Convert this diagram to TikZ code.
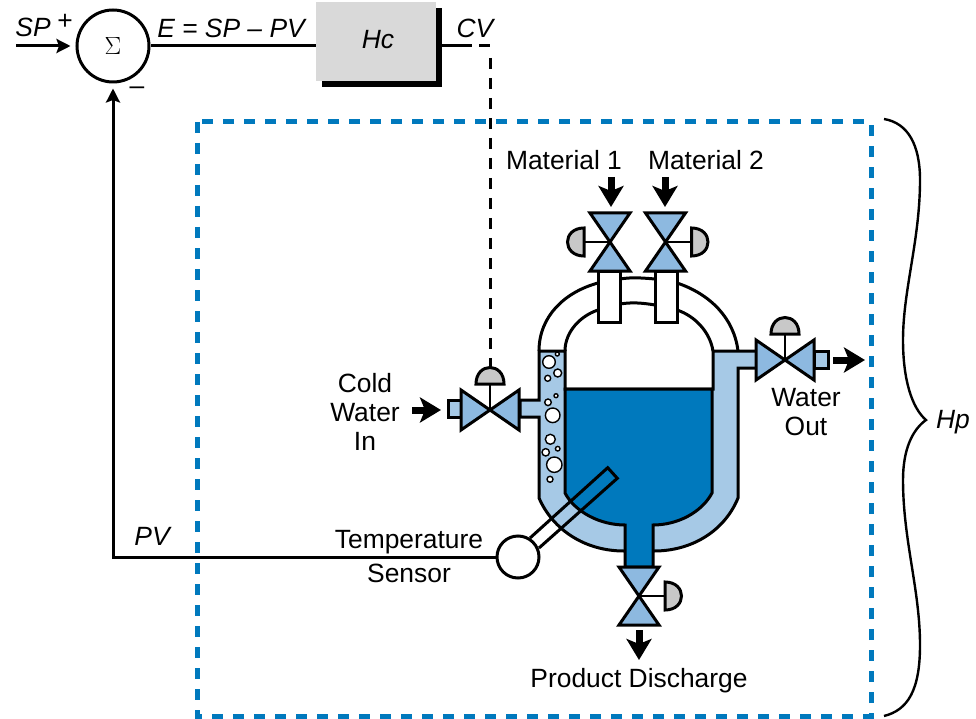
\documentclass[tikz,border=0pt]{standalone}
\usepackage{fontspec}
\setmainfont{Liberation Sans}
\usetikzlibrary{arrows.meta}
\definecolor{waterblue}{HTML}{0079BD}
\definecolor{jacketblue}{HTML}{A6C9E6}
\definecolor{valveblue}{HTML}{8DB9E0}
\definecolor{blockgray}{HTML}{D9D9D9}
\definecolor{domegray}{HTML}{C8C8C8}
\tikzset{
  lab/.style={font=\fontsize{26.4}{29}\selectfont, inner sep=0pt, align=center},
  ilab/.style={lab, font=\fontsize{26.4}{29}\selectfont\itshape},
  wire/.style={line width=3pt, -{Stealth[length=14pt,width=14pt,inset=2.5pt]}, shorten >=5pt},
  plainwire/.style={line width=3pt},
  ctl/.style={line width=3pt, dash pattern=on 11pt off 9pt},
  flow/.style={line width=7pt, -{Stealth[length=21pt,width=25pt,inset=5pt]}},
  bubble/.style={fill=white, draw=black, line width=1.4pt},
  valve/.pic={
    \draw[line width=3pt, fill=valveblue, line join=miter]
      (0,0) -- (-29,-20) -- (-29,20) -- cycle
      (0,0) -- (29,-20) -- (29,20) -- cycle;
    \draw[line width=2.4pt] (0,0) -- (0,-26);
    \draw[line width=3pt, fill=domegray]
      (-14,-26) .. controls (-14,-48) and (14,-48) .. (14,-26) -- cycle;
  }
}
\begin{document}
\begin{tikzpicture}[x=1pt, y=-1pt]
  \useasboundingbox (0,0) rectangle (976,719);

  % control block
  \node[circle, draw, line width=3pt, minimum size=72pt, inner sep=0pt, font=\fontsize{28}{30}\selectfont] (sum) at (113,46) {\(\Sigma\)};
  \node[fill=black, minimum width=120pt, minimum height=79pt, inner sep=0pt] (hcshadow) at (382,47.5) {};
  \node[fill=blockgray, minimum width=120pt, minimum height=79pt, inner sep=0pt] (hc) at (376,41.5) {};
  \node[ilab] (hclab) at (378,40) {Hc};
  \coordinate (spin) at (16,46);
  \coordinate (cvend) at (472,46);
  \coordinate (cvdash) at (475,46);
  \coordinate (cvturn) at (490,46);
  \coordinate (pvturn) at (113,557);
  \draw[wire] (spin) -- (sum);
  \draw[plainwire] (sum) -- (sum -| hc.west);
  \draw[plainwire] (sum -| hcshadow.east) -- (cvend);

  % frame
  \draw[waterblue, line width=5pt, dash pattern=on 11pt off 10pt] (197,122) rectangle (871,716);

  % white pipes
  \draw[plainwire] (539,351) .. controls (539,316) and (565,292) .. (598,283);
  \draw[plainwire] (565,351) .. controls (565,332) and (580,316) .. (598,310);
  \draw[plainwire] (677,283) .. controls (710,294) and (734,318) .. (738,351);
  \draw[plainwire] (677,310) .. controls (695,316) and (710,332) .. (713,351);
  \draw[plainwire] (620,279) .. controls (632,277) and (643,278) .. (655,279);
  \draw[plainwire] (620,304) .. controls (632,302) and (643,303) .. (655,305);
  \draw[plainwire, fill=white] (598,271) rectangle (620,322);
  \draw[plainwire, fill=white] (655,271) rectangle (677,322);

  % jacket and vessel
  \draw[plainwire, fill=jacketblue] (539,351) -- (565,351) -- (565,389) -- (713,389) -- (713,351) -- (757,351)
    -- (757,368) -- (738,368) -- (738,498) .. controls (725,530) and (693,551) .. (654,551) -- (624,551)
    .. controls (585,551) and (553,530) .. (539,498) -- (539,417) -- (520,417) -- (520,400) -- (539,400) -- cycle;
  \draw[plainwire, fill=waterblue] (565,389) -- (712,389) -- (712,493) .. controls (702,512) and (678,525) .. (653,525)
    -- (653,567) -- (625,567) -- (625,525) .. controls (600,525) and (575,512) .. (565,493) -- cycle;
  \foreach \x/\y/\r in {549/362/6.3, 557.3/354/2, 557.7/373/4, 547.7/378.3/3, 556/395.7/2, 548/402.3/3.3,
      552.7/415.3/7.3, 550.3/439.3/5, 557.7/448.7/2.3, 545.7/452.3/3.7, 554.3/464.7/7.7, 550/479.3/3} {
    \draw[bubble] (\x,\y) circle (\r pt);
  }

  % stubs and valves
  \draw[plainwire, fill=jacketblue] (448,400) rectangle (461,417);
  \draw[plainwire, fill=jacketblue] (814,351) rectangle (828,368);
  \pic at (490,410) {valve};
  \pic at (785,360) {valve};
  \pic[rotate=90] at (610,242) {valve};
  \pic[rotate=-90] at (665.5,242) {valve};
  \pic[rotate=-90] at (639,596) {valve};
  \coordinate (cwdome) at (490,367);
  \draw[ctl] (cvturn) ++(0,12) -- (cwdome);
  \draw[ctl] (cvdash) ++(4,0) -- (cvturn);

  % temperature sensor
  \node[circle, draw, fill=white, line width=3pt, minimum size=42pt, inner sep=0pt] (sensor) at (518,557) {};
  \draw[plainwire] (530,538) -- (607.7,467.7) -- (617.3,478.3) -- (539,548);
  \draw[wire] (sensor) -- (pvturn) -- (sum);

  % flow arrows
  \draw[flow] (412,410) -- (441,410);
  \draw[flow] (833,360) -- (865,360);
  \draw[flow] (611,177) -- (611,207);
  \draw[flow] (665,177) -- (665,207);
  \draw[flow] (639,630) -- (639,660);

  % labels
  \node[ilab] (splab) at (33,27) {SP};
  \node[lab] (plus) at (65,22) {+};
  \node[lab] (minus) at (137,91) {\textendash};
  \node[ilab] (elab) at (231,28) {E = SP \textendash{} PV};
  \node[ilab] (cvlab) at (475,28) {CV};
  \node[ilab] (pvlab) at (152,536) {PV};
  \node[ilab] (hplab) at (953,422) {Hp};
  \node[lab] (mat1) at (564,160) {Material 1};
  \node[lab] (mat2) at (706,160) {Material 2};
  \node[lab] (cold) at (365,412) {Cold\\Water\\In};
  \node[lab] (wout) at (806,412) {Water\\Out};
  \node[lab] (temp) at (409,557) {Temperature\\[5pt]Sensor};
  \node[lab] (prod) at (639,681) {Product Discharge};

  % brace
  \draw[line width=2.4pt] (884,119) .. controls (908,123) and (920,145) .. (920,180)
    .. controls (920,240) and (903,290) .. (903,340) .. controls (903,380) and (912,408) .. (926,420)
    .. controls (912,430) and (903,450) .. (903,480) .. controls (903,540) and (920,590) .. (920,645)
    .. controls (920,690) and (908,710) .. (884,716);
\end{tikzpicture}
\end{document}
